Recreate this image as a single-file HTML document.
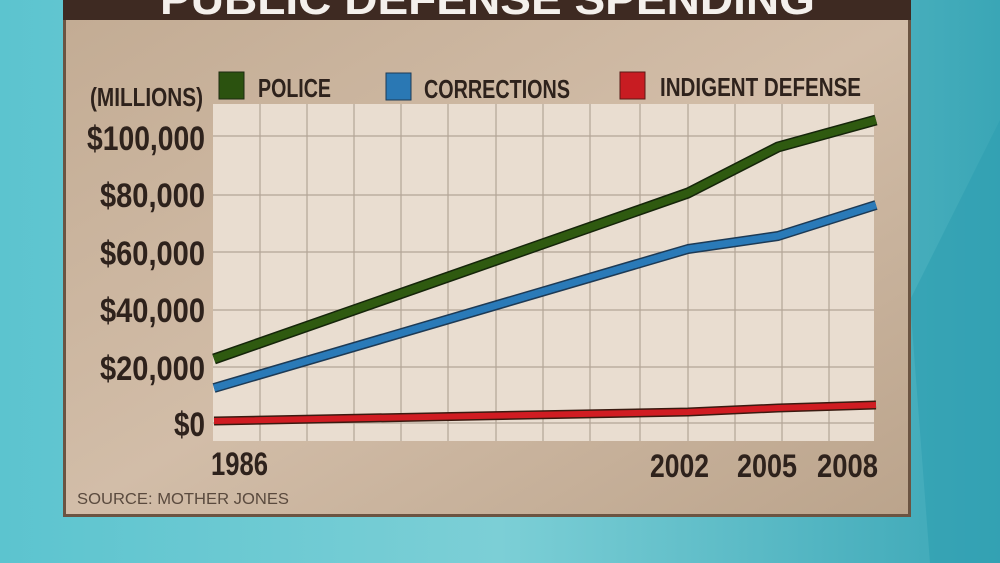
<!DOCTYPE html>
<html><head><style>
html,body{margin:0;padding:0;width:1000px;height:563px;overflow:hidden;background:#5ec3cc;}
</style></head><body>
<svg width="1000" height="563" viewBox="0 0 1000 563" style="position:absolute;left:0;top:0">
<defs>
<linearGradient id="pb" x1="0" y1="0" x2="1" y2="1">
<stop offset="0" stop-color="#c3ac94"/><stop offset="0.5" stop-color="#d2bda8"/><stop offset="1" stop-color="#bba48c"/>
</linearGradient>
<linearGradient id="bg" x1="0" y1="0" x2="1" y2="0">
<stop offset="0" stop-color="#5cc4cf"/><stop offset="0.5" stop-color="#7ccfd6"/><stop offset="1" stop-color="#3aa6b6"/>
</linearGradient>
</defs>
<rect x="0" y="0" width="1000" height="563" fill="url(#bg)"/>
<polygon points="910,300 1000,120 1000,563 930,563" fill="#2f9fb1" opacity="0.6"/>
<rect x="63" y="0" width="848" height="517" fill="#6b5442"/>
<rect x="66" y="20" width="842" height="494" fill="url(#pb)"/>
<rect x="63" y="0" width="848" height="20" fill="#3e2a22"/>
<text x="160" y="14" textLength="655" lengthAdjust="spacingAndGlyphs" font-family="Liberation Sans, sans-serif" font-weight="bold" font-size="44" fill="#f4f0ec">PUBLIC DEFENSE SPENDING</text>
<rect x="213" y="104" width="661" height="337" fill="#e9ddd0"/>
<g stroke="#b3a596" stroke-width="1.2">
<line x1="260" y1="104" x2="260" y2="441"/><line x1="307" y1="104" x2="307" y2="441"/><line x1="354" y1="104" x2="354" y2="441"/><line x1="401" y1="104" x2="401" y2="441"/><line x1="448" y1="104" x2="448" y2="441"/><line x1="496" y1="104" x2="496" y2="441"/><line x1="543" y1="104" x2="543" y2="441"/><line x1="590" y1="104" x2="590" y2="441"/><line x1="640" y1="104" x2="640" y2="441"/><line x1="688" y1="104" x2="688" y2="441"/><line x1="735" y1="104" x2="735" y2="441"/><line x1="782" y1="104" x2="782" y2="441"/><line x1="829" y1="104" x2="829" y2="441"/>
<line x1="213" y1="136" x2="874" y2="136"/><line x1="213" y1="195" x2="874" y2="195"/><line x1="213" y1="252" x2="874" y2="252"/><line x1="213" y1="310" x2="874" y2="310"/><line x1="213" y1="367" x2="874" y2="367"/><line x1="213" y1="423" x2="874" y2="423"/>
</g>
<g fill="none" stroke-linejoin="round">
<polyline points="214,421 688,412 778,408 876,405" stroke="#3a1a10" stroke-width="9"/>
<polyline points="214,421 688,412 778,408 876,405" stroke="#d01c22" stroke-width="6"/>
<polyline points="214,388 688,249 778,236 876,205" stroke="#1d3a55" stroke-width="10"/>
<polyline points="214,388 688,249 778,236 876,205" stroke="#2a7ab8" stroke-width="7"/>
<polyline points="214,359 688,193 778,147 876,120" stroke="#15250a" stroke-width="11"/>
<polyline points="214,359 688,193 778,147 876,120" stroke="#2f5a10" stroke-width="8"/>
</g>
<g font-family="Liberation Sans, sans-serif" font-weight="bold" fill="#2e221c" lengthAdjust="spacingAndGlyphs">
<text x="90" y="106" font-size="26" textLength="113" lengthAdjust="spacingAndGlyphs">(MILLIONS)</text>
<text x="87" y="150" font-size="34" textLength="118" lengthAdjust="spacingAndGlyphs">$100,000</text>
<text x="100" y="207" font-size="34" textLength="105" lengthAdjust="spacingAndGlyphs">$80,000</text>
<text x="100" y="265" font-size="34" textLength="105" lengthAdjust="spacingAndGlyphs">$60,000</text>
<text x="100" y="322" font-size="34" textLength="105" lengthAdjust="spacingAndGlyphs">$40,000</text>
<text x="100" y="380" font-size="34" textLength="105" lengthAdjust="spacingAndGlyphs">$20,000</text>
<text x="174" y="436" font-size="34" textLength="31" lengthAdjust="spacingAndGlyphs">$0</text>
<text x="211" y="475" font-size="32" textLength="57" lengthAdjust="spacingAndGlyphs">1986</text>
<text x="650" y="477" font-size="32" textLength="59" lengthAdjust="spacingAndGlyphs">2002</text>
<text x="737" y="477" font-size="32" textLength="60" lengthAdjust="spacingAndGlyphs">2005</text>
<text x="817" y="477" font-size="32" textLength="61" lengthAdjust="spacingAndGlyphs">2008</text>
<text x="258" y="97" font-size="26" textLength="73" lengthAdjust="spacingAndGlyphs">POLICE</text>
<text x="424" y="98" font-size="26" textLength="146" lengthAdjust="spacingAndGlyphs">CORRECTIONS</text>
<text x="660" y="96" font-size="26" textLength="201" lengthAdjust="spacingAndGlyphs">INDIGENT DEFENSE</text>
</g>
<rect x="219" y="72" width="25" height="27" fill="#2b520f" stroke="#1c2a10" stroke-width="1"/>
<rect x="386" y="73" width="25" height="27" fill="#2a78b4" stroke="#1d3a55" stroke-width="1"/>
<rect x="620" y="72" width="25" height="27" fill="#c81c22" stroke="#5a1a16" stroke-width="1"/>
<text x="77" y="504" textLength="212" lengthAdjust="spacingAndGlyphs" font-family="Liberation Sans, sans-serif" font-size="16" fill="#5a4a3e">SOURCE:  MOTHER JONES</text>
</svg>
</body></html>
